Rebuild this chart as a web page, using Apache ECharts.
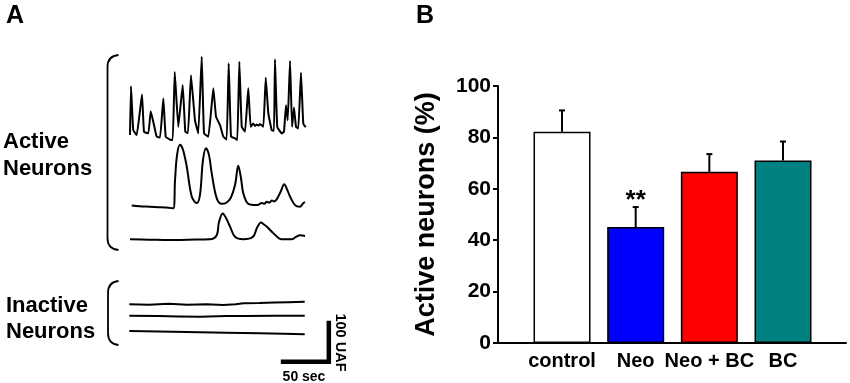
<!DOCTYPE html>
<html><head><meta charset="utf-8">
<script src="https://cdn.jsdelivr.net/npm/echarts@6/dist/echarts.min.js"></script>
<style>html,body{margin:0;padding:0;background:#fff}#c{width:850px;height:383px}</style>
</head><body><div id="c"></div>
<script>
const FONT = '"Liberation Sans", Arial, Helvetica, sans-serif';

// ---------- Panel B data ----------
const categories = ['control', 'Neo', 'Neo + BC', 'BC'];
const values = [82.2, 45.1, 66.6, 71.0];
const errors = [8.3, 7.8, 6.9, 7.4];
const barColors = ['#ffffff', '#0000ff', '#ff0000', '#008080'];
const significance = ['', '**', '', ''];

// ---------- Panel A data (time in sec, fluorescence in UAF relative to each trace's baseline) ----------
const active1 = [[0,5],[1,124],[3.4,17],[7,5],[12.5,104],[14.6,13],[19.1,9],[21.6,63],[24.3,37],[27.8,1],[31.3,-1],[34.7,94],[37.2,1],[41.7,-6],[44.5,-7],[46.6,159],[50.3,25],[54.9,127],[57.6,13],[60.4,10],[63.5,151],[67.7,41],[71.1,9],[74.7,196],[77.1,9],[81.6,1],[86.8,119],[89.6,50],[93.8,29],[97.2,1],[100.7,-6],[102.8,180],[105.2,1],[109.4,-3],[111.8,-7],[113.9,184],[116.4,25],[119.8,13],[123.2,119],[125.7,25],[128.4,33],[130.2,27],[132,31],[133.8,28],[135.4,32],[138.9,25],[141.4,145],[144.1,58],[147.6,17],[150,15],[151,190],[153.4,25],[158,9],[160.4,13],[162.5,78],[164.3,41],[166.7,186],[168.8,25],[170.8,72],[172.9,25],[175.3,21],[178.1,157],[180.5,33],[183,24]];
const active2 = [[1.8,1],[10,-1],[20.8,-2],[30,-3],[38,-4],[45.1,-6],[46.9,63],[49,124],[52.1,149],[55.2,137],[59.1,96],[64.3,23],[69.5,7],[72.9,27],[76,112],[79.2,141],[82.3,124],[85.1,80],[90.3,19],[95.5,5],[100,7],[105,20],[109.4,51],[112.8,98],[115.6,68],[118,31],[123.2,5],[132,2],[137.5,7],[140,5],[142.4,10],[145,8],[147.9,13],[150,11],[152.8,16],[156.8,34],[160.7,53],[163.5,41],[166.7,23],[171.9,2],[177.1,-2],[180.2,6],[182.3,9]];
const active3 = [[0,0],[20,-1],[41.7,-2],[60,-1],[83.3,0],[90.3,10],[92.7,42],[96.6,63],[100,52],[104.2,31],[109.4,6],[118,0],[128.1,6],[132.3,28],[136.5,41],[139.6,36],[142.4,31],[149.3,15],[158,0],[168.4,0],[172.9,6],[177.1,10],[180,9],[182.3,8]];
const inactive1 = [[-0.7,0],[20,-1],[40,1],[60,-1],[80,0],[97,-2],[110,0],[118,2.4],[135,3],[150,4.4],[165,5],[182,6.3]];
const inactive2 = [[-0.7,0],[30,-1],[50,-2],[73,-2.4],[100,-1],[120,-0.7],[150,0],[182,0]];
const inactive3 = [[-0.7,0],[30,-1],[73,-3.2],[100,-4],[135,-5.6],[160,-7],[182,-8]];
const traces = [active1, active2, active3, inactive1, inactive2, inactive3];
const traceOffsets = [593, 425, 343.5, 185, 157, 119.6];
const traceSmooth = [0.1, 0.35, 0.35, 0, 0, 0];
const scaleSec = 50, scaleUAF = 100;
const scaleCorner = [207.1, 44.4];

const chart = echarts.init(document.getElementById('c'), null, {renderer: 'canvas'});

const traceSeries = traces.map((tr, i) => ({
  type: 'line', xAxisIndex: 0, yAxisIndex: 0, silent: true,
  showSymbol: false, symbol: 'none', animation: false, smooth: traceSmooth[i],
  lineStyle: {color: '#000', width: 2, join: 'round'},
  data: tr.map(([t, v]) => [t, v + traceOffsets[i]])
}));

function bracket(xEdge, xLine, yTop, yBot) {
  const st = {stroke: '#000', lineWidth: 1.8, fill: null};
  return [
    {type: 'bezierCurve', shape: {x1: xEdge, y1: yTop, cpx1: xLine, cpy1: yTop + 1, x2: xLine, y2: yTop + 12}, style: st},
    {type: 'line', shape: {x1: xLine, y1: yTop + 12, x2: xLine, y2: yBot - 12}, style: st},
    {type: 'bezierCurve', shape: {x1: xLine, y1: yBot - 12, cpx1: xLine, cpy1: yBot - 1, x2: xEdge, y2: yBot}, style: st}
  ];
}

const option = {
  animation: false,
  backgroundColor: '#fff',
  grid: [
    {left: 100, top: 40, width: 240, height: 340, containLabel: false, outerBoundsMode: 'none'},
    {left: 498, top: 86, right: 4, bottom: 40, containLabel: false, outerBoundsMode: 'none'}
  ],
  xAxis: [
    {gridIndex: 0, type: 'value', min: -31.25, max: 218.75, show: false},
    {gridIndex: 1, type: 'value', min: 0.131, max: 4.855,
     splitLine: {show: false},
     axisLine: {show: true, onZero: false, lineStyle: {color: '#000', width: 2}},
     axisTick: {show: false},
     axisLabel: {
       customValues: categories.map((c, i) => i + 1),
       formatter: v => categories[Math.round(v) - 1] || '',
       color: '#000', fontFamily: FONT, fontWeight: 'bold', fontSize: 20, margin: 8
     }}
  ],
  yAxis: [
    {gridIndex: 0, type: 'value', min: 0, max: 830, show: false},
    {gridIndex: 1, type: 'value', min: 0, max: 100, interval: 20,
     name: 'Active neurons (%)', nameLocation: 'middle', nameGap: 58,
     nameTextStyle: {color: '#000', fontFamily: FONT, fontWeight: 'bold', fontSize: 27},
     splitLine: {show: false},
     axisLine: {show: true, lineStyle: {color: '#000', width: 2}},
     axisTick: {show: true, length: 5, lineStyle: {color: '#000', width: 2}},
     axisLabel: {color: '#000', fontFamily: FONT, fontWeight: 'bold', fontSize: 21, margin: 7}}
  ],
  series: [
    ...traceSeries,
    {
      type: 'line', xAxisIndex: 0, yAxisIndex: 0, silent: true, showSymbol: false, symbol: 'none',
      lineStyle: {color: '#000', width: 4.5, cap: 'butt', join: 'miter'},
      data: [[scaleCorner[0] - scaleSec, scaleCorner[1]], scaleCorner, [scaleCorner[0], scaleCorner[1] + scaleUAF]]
    },
    {
      type: 'bar', xAxisIndex: 1, yAxisIndex: 1, barWidth: 57, silent: true,
      data: values.map((v, i) => ({value: [i + 1, v], itemStyle: {color: barColors[i], borderColor: '#000', borderWidth: 1.5}}))
    },
    {
      type: 'custom', xAxisIndex: 1, yAxisIndex: 1, silent: true, z: 5,
      data: values.map((v, i) => [i + 1, v, errors[i], i]),
      renderItem: (params, api) => {
        const x = api.value(0), y = api.value(1), e = api.value(2), idx = api.value(3);
        const p0 = api.coord([x, y]), p1 = api.coord([x, y + e]);
        const children = [
          {type: 'line', shape: {x1: p0[0], y1: p0[1], x2: p1[0], y2: p1[1]}, style: {stroke: '#000', lineWidth: 2}},
          {type: 'line', shape: {x1: p1[0] - 3, y1: p1[1], x2: p1[0] + 3, y2: p1[1]}, style: {stroke: '#000', lineWidth: 2}}
        ];
        if (significance[idx]) {
          children.push({type: 'text', style: {text: significance[idx], x: p1[0], y: p1[1] - 6,
            align: 'center', verticalAlign: 'middle',
            fontFamily: FONT, fontWeight: 'bold', fontSize: 26, fill: '#000'}});
        }
        return {type: 'group', children};
      }
    }
  ],
  graphic: [
    {type: 'text', x: 6, y: 4, style: {text: 'A', font: 'bold 25px ' + FONT, fill: '#000', textVerticalAlign: 'top'}},
    {type: 'text', x: 416, y: 4, style: {text: 'B', font: 'bold 25px ' + FONT, fill: '#000', textVerticalAlign: 'top'}},
    {type: 'text', x: 3, y: 128, style: {text: 'Active\nNeurons', font: 'bold 22px ' + FONT, lineHeight: 27, fill: '#000', textVerticalAlign: 'top'}},
    {type: 'text', x: 6, y: 293, style: {text: 'Inactive\nNeurons', font: 'bold 22px ' + FONT, lineHeight: 26, fill: '#000', textVerticalAlign: 'top'}},
    {type: 'text', x: 304, y: 377.5, style: {text: '50 sec', font: 'bold 14px ' + FONT, fill: '#000', textAlign: 'center', textVerticalAlign: 'middle'}},
    {type: 'text', x: 339.5, y: 342.5, rotation: -Math.PI / 2, style: {text: '100 UAF', font: 'bold 14.5px ' + FONT, fill: '#000', textAlign: 'center', textVerticalAlign: 'middle'}},
    ...bracket(118.5, 107.5, 55, 250),
    ...bracket(118.5, 108, 281, 345)
  ]
};
chart.setOption(option);
</script></body></html>
